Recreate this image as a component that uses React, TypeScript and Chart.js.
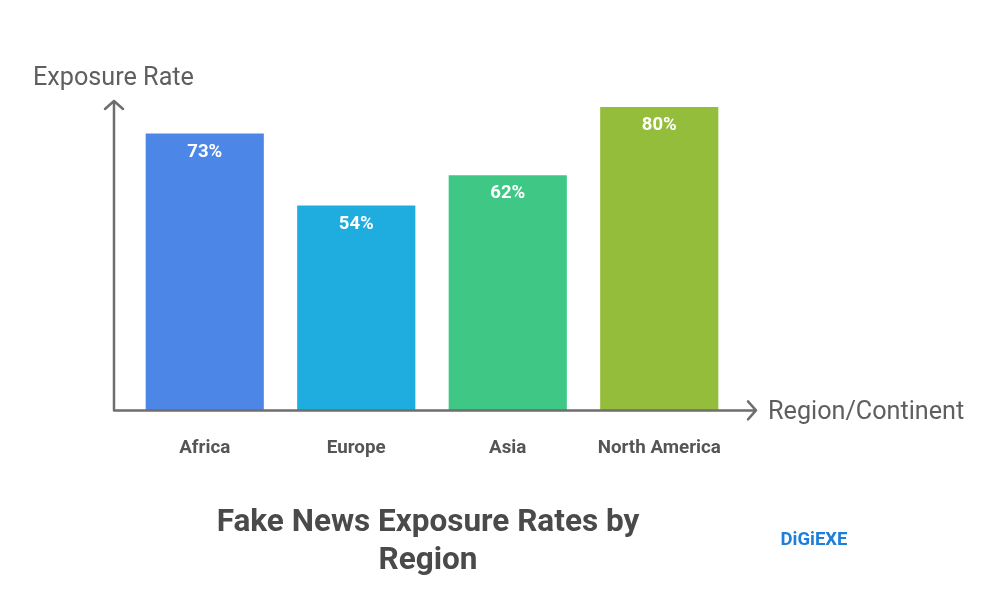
import { Chart, registerables } from "chart.js"
import type { Plugin } from "chart.js"
import { FC, useEffect, useRef } from "react"

Chart.register(...registerables)

const regions = ["Africa", "Europe", "Asia", "North America"]
const exposure = [73, 54, 62, 80]
const barColors = ["#4C86E6", "#1EADDE", "#3EC785", "#94BD3C"]
const titleLines = ["Fake News Exposure Rates by", "Region"]

const axisColor = "#6E6E6E"
const font = "Roboto"

const decorations: Plugin<"bar"> = {
    id: "decorations",
    afterDatasetsDraw(chart) {
        const { ctx, chartArea } = chart
        const x0 = chartArea.left - 15
        const y0 = chartArea.bottom
        ctx.save()

        // axes with open arrow heads
        ctx.strokeStyle = axisColor
        ctx.lineWidth = 2.5
        ctx.lineCap = "round"
        ctx.lineJoin = "round"
        ctx.beginPath()
        ctx.moveTo(x0, chartArea.top - 6)
        ctx.lineTo(x0, y0)
        ctx.lineTo(chartArea.right + 21, y0)
        ctx.moveTo(x0 - 9, chartArea.top + 2)
        ctx.lineTo(x0, chartArea.top - 6)
        ctx.lineTo(x0 + 9, chartArea.top + 2)
        ctx.moveTo(chartArea.right + 13, y0 - 9)
        ctx.lineTo(chartArea.right + 21, y0)
        ctx.lineTo(chartArea.right + 13, y0 + 9)
        ctx.stroke()

        // value labels inside the bars
        ctx.textBaseline = "middle"
        ctx.textAlign = "center"
        ctx.fillStyle = "#FFFFFF"
        ctx.font = `bold 18.5px ${font}`
        chart.getDatasetMeta(0).data.forEach((bar, i) => {
            ctx.fillText(`${exposure[i]}%`, bar.x, bar.y + 18.5)
        })

        // axis names
        ctx.fillStyle = "#5F5F5F"
        ctx.font = `25.2px ${font}`
        ctx.textAlign = "left"
        ctx.fillText("Exposure Rate", 33, 78.5)
        ctx.fillText("Region/Continent", 768, 412.5)

        // title
        ctx.fillStyle = "#4A4A4A"
        ctx.font = `bold 31.5px ${font}`
        ctx.textAlign = "center"
        titleLines.forEach((line, i) => ctx.fillText(line, 428, 523 + i * 38))

        // brand mark
        ctx.fillStyle = "#1E7FD8"
        ctx.font = `bold 18.5px ${font}`
        ctx.fillText("DiGiEXE", 814, 540)

        ctx.restore()
    }
}

const App: FC = () => {
    const canvas = useRef<HTMLCanvasElement>(null)

    useEffect(() => {
        if (!canvas.current) return
        const barChart = new Chart(canvas.current, {
            type: "bar",
            data: {
                labels: regions,
                datasets: [
                    {
                        label: "Exposure Rate",
                        data: exposure,
                        backgroundColor: barColors,
                        categoryPercentage: 1,
                        barPercentage: 0.78
                    }
                ]
            },
            options: {
                responsive: false,
                animation: false,
                layout: {
                    padding: { left: 129, right: 264, top: 107, bottom: 107 }
                },
                plugins: {
                    legend: { display: false },
                    tooltip: { enabled: false }
                },
                scales: {
                    x: {
                        border: { display: false },
                        grid: { display: false, drawTicks: false },
                        ticks: {
                            padding: 27,
                            color: "#555555",
                            font: { family: font, size: 18.8, weight: "bold" }
                        }
                    },
                    y: {
                        display: false,
                        min: 0,
                        max: 80
                    }
                }
            },
            plugins: [decorations]
        })

        return () => barChart.destroy()
    }, [])

    return (
        <div style={{ position: "absolute", left: 0, top: 0, background: "#fff" }}>
            <canvas ref={canvas} width={999} height={594}></canvas>
        </div>
    )
}

export default App
